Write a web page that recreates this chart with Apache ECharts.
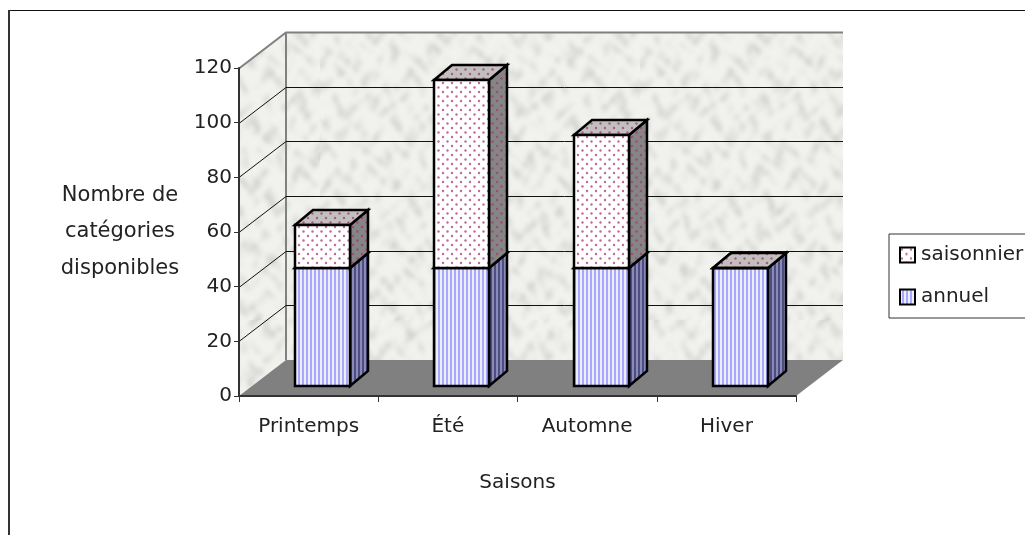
<!DOCTYPE html>
<html>
<head>
<meta charset="utf-8">
<title>Saisons</title>
<style>
    html, body { margin: 0; padding: 0; background: #fff; }
    #main { width: 1025px; height: 535px; }
</style>
<script src="https://cdn.jsdelivr.net/npm/echarts@6/dist/echarts.min.js"></script>
</head>
<body>
<div id="main"></div>
<script>
var categories = ['Printemps', 'Été', 'Automne', 'Hiver'];
var annuel = [43, 43, 43, 43];
var saisonnier = [16, 69, 49, 0];
var yTicks = [0, 20, 40, 60, 80, 100, 120];

// decalage du plancher 3D (fond) et des barres (profondeur)
var wallDx = 47, wallDy = -36;
var barDx = 14, barDy = -10;
var sideDx = 18, sideDy = -15;
var barWidth = 55;
var fontName = '"DejaVu Sans"';

function tile(w, h, draw) {
    var c = document.createElement('canvas');
    c.width = w;
    c.height = h;
    draw(c.getContext('2d'), c);
    return { image: c, repeat: 'repeat' };
}
function dots(bg, dot) {
    return tile(9, 9, function (g) {
        g.fillStyle = bg;
        g.fillRect(0, 0, 9, 9);
        g.fillStyle = dot;
        [[2, 2], [6.5, 6.5]].forEach(function (p) {
            g.beginPath();
            g.arc(p[0], p[1], 1.2, 0, Math.PI * 2);
            g.fill();
        });
    });
}
function stripes(a, b) {
    return tile(4, 4, function (g) {
        g.fillStyle = a;
        g.fillRect(0, 0, 4, 4);
        g.fillStyle = b;
        g.fillRect(0, 0, 2, 4);
    });
}
// texture marbre du fond
function marble() {
    return tile(320, 320, function (g, c) {
        var t = Math.PI * 2 / 320;
        for (var y = 0; y < 320; y += 2) {
            for (var x = 0; x < 320; x += 2) {
                var n = Math.sin(x * t * 7 + 2.5 * Math.sin(y * t * 5 + 1.3 * Math.sin(x * t * 11)))
                    + Math.sin(y * t * 13 + 2.2 * Math.sin(x * t * 9 + 1.7 * Math.sin(y * t * 3)))
                    + 0.6 * Math.sin(x * t * 23 + 1.9 * Math.sin(y * t * 17));
                var v = Math.round(241 - Math.max(0, n) * 13);
                g.fillStyle = 'rgb(' + v + ',' + v + ',' + (v - 3) + ')';
                g.fillRect(x, y, 2, 2);
            }
        }
        g.filter = 'blur(2px)';
        g.drawImage(c, 0, 0);
        g.filter = 'none';
    });
}

var wallFill = marble();
var stripeFront = stripes('#a9a9fb', '#ecedff');
var stripeSide = stripes('#4d4d80', '#8a8ab8');
var dotFront = dots('#ffffff', '#bd6a98');
var dotSide = dots('#858585', '#a04a78');
var dotTop = dots('#c4bfbf', '#a05f80');

function poly(points, fill) {
    return {
        type: 'polygon',
        shape: { points: points },
        style: { fill: fill, stroke: '#000', lineWidth: 2.5, lineJoin: 'miter' }
    };
}

function renderWalls(params, api) {
    var v = api.value(0);
    var cs = params.coordSys;
    var x0 = cs.x, x1 = cs.x + cs.width;
    var y = api.coord([0, v])[1];
    var children = [];
    if (v === yTicks[0]) {
        var top = cs.y;
        children.push({
            type: 'polygon',
            shape: { points: [[x0, top], [x0 + wallDx, top + wallDy], [x1 + wallDx, top + wallDy], [x1 + wallDx, y + wallDy], [x0 + wallDx, y + wallDy], [x0, y]] },
            style: { fill: wallFill }
        });
        children.push({
            type: 'polygon',
            shape: { points: [[x0, y], [x1, y], [x1 + wallDx, y + wallDy], [x0 + wallDx, y + wallDy]] },
            style: { fill: '#808080' }
        });
        children.push({
            type: 'line',
            shape: { x1: x0 + wallDx, y1: top + wallDy, x2: x0 + wallDx, y2: y + wallDy },
            style: { stroke: '#808080', lineWidth: 2 }
        });
    } else {
        var isTop = v === yTicks[yTicks.length - 1];
        var ly = Math.round(y) + 0.5;
        children.push({
            type: 'polyline',
            shape: { points: [[x0, ly], [x0 + wallDx, ly + wallDy], [x1 + wallDx, ly + wallDy]] },
            style: { fill: 'none', stroke: isTop ? '#808080' : '#111', lineWidth: isTop ? 2 : 1 }
        });
    }
    return { type: 'group', children: children };
}

function renderStack(fillFront, fillSide, fillTop) {
    return function (params, api) {
        var cat = api.value(0);
        var c0 = api.coord([cat, api.value(1)]);
        var c1 = api.coord([cat, api.value(2)]);
        var l = Math.round(c0[0] + barDx - barWidth / 2);
        var r = l + barWidth;
        var b = Math.round(c0[1] + barDy);
        var t = Math.round(c1[1] + barDy);
        return {
            type: 'group',
            children: [
                poly([[r, b], [r + sideDx, b + sideDy], [r + sideDx, t + sideDy], [r, t]], fillSide),
                poly([[l, t], [r, t], [r + sideDx, t + sideDy], [l + sideDx, t + sideDy]], fillTop),
                poly([[l, b], [r, b], [r, t], [l, t]], fillFront)
            ]
        };
    };
}

var annuelData = categories.map(function (c, i) { return [i, 0, annuel[i]]; });
var saisonnierData = categories.map(function (c, i) { return [i, annuel[i], annuel[i] + saisonnier[i]]; });

var myChart = echarts.init(document.getElementById('main'), null, { renderer: 'canvas' });
var option = {
    backgroundColor: '#fff',
    animation: false,
    textStyle: { fontFamily: fontName },
    graphic: [
        { type: 'line', shape: { x1: 9, y1: 10.5, x2: 1025, y2: 10.5 }, style: { stroke: '#111', lineWidth: 1 } },
        { type: 'line', shape: { x1: 9, y1: 10, x2: 9, y2: 535 }, style: { stroke: '#333', lineWidth: 2 } }
    ],
    grid: { left: 239, right: 229, top: 68, bottom: 139 },
    legend: {
        left: 889,
        top: 234,
        orient: 'vertical',
        padding: [11, 20, 11, 10],
        itemWidth: 15,
        itemHeight: 15,
        itemGap: 22,
        borderColor: '#333',
        borderWidth: 1,
        backgroundColor: '#fff',
        textStyle: { color: '#222', fontSize: 20, fontFamily: fontName, padding: [0, 0, 0, 1] },
        data: [
            { name: 'saisonnier', icon: 'rect', itemStyle: { color: dotFront, borderColor: '#000', borderWidth: 2 } },
            { name: 'annuel', icon: 'rect', itemStyle: { color: stripeFront, borderColor: '#000', borderWidth: 2 } }
        ]
    },
    xAxis: {
        type: 'category',
        data: categories,
        z: 5,
        name: 'Saisons',
        nameLocation: 'middle',
        nameGap: 77,
        nameTextStyle: { color: '#222', fontSize: 20 },
        axisLine: { lineStyle: { color: '#333', width: 2 } },
        axisTick: { show: true, length: 6, lineStyle: { color: '#333' } },
        axisLabel: { color: '#222', fontSize: 20, margin: 21 },
        splitLine: { show: false }
    },
    yAxis: {
        type: 'value',
        min: 0,
        max: 120,
        interval: 20,
        z: 5,
        name: 'Nombre de\ncatégories\ndisponibles',
        nameLocation: 'middle',
        nameRotate: 0,
        nameGap: 119,
        nameTextStyle: { color: '#222', fontSize: 21, lineHeight: 36.5, align: 'center', padding: [0, 0, 4, 0] },
        axisLine: { show: true, lineStyle: { color: '#333', width: 2 } },
        axisTick: { show: true, length: 5, lineStyle: { color: '#333' } },
        axisLabel: { color: '#222', fontSize: 20, margin: 7 },
        splitLine: { show: false }
    },
    series: [
        {
            name: 'fond',
            type: 'custom',
            coordinateSystem: 'cartesian2d',
            silent: true,
            clip: false,
            z: 1,
            renderItem: renderWalls,
            encode: { y: 0 },
            data: yTicks.map(function (v) { return [v]; })
        },
        {
            name: 'annuel',
            type: 'custom',
            coordinateSystem: 'cartesian2d',
            clip: false,
            z: 3,
            itemStyle: { color: stripeFront },
            renderItem: renderStack(stripeFront, stripeSide, dotTop),
            encode: { x: 0, y: [1, 2] },
            data: annuelData
        },
        {
            name: 'saisonnier',
            type: 'custom',
            coordinateSystem: 'cartesian2d',
            clip: false,
            z: 4,
            itemStyle: { color: dotFront },
            renderItem: renderStack(dotFront, dotSide, dotTop),
            encode: { x: 0, y: [1, 2] },
            data: saisonnierData
        }
    ]
};
myChart.setOption(option);
window.addEventListener('resize', function () {
    myChart.resize();
});
</script>
</body>
</html>
